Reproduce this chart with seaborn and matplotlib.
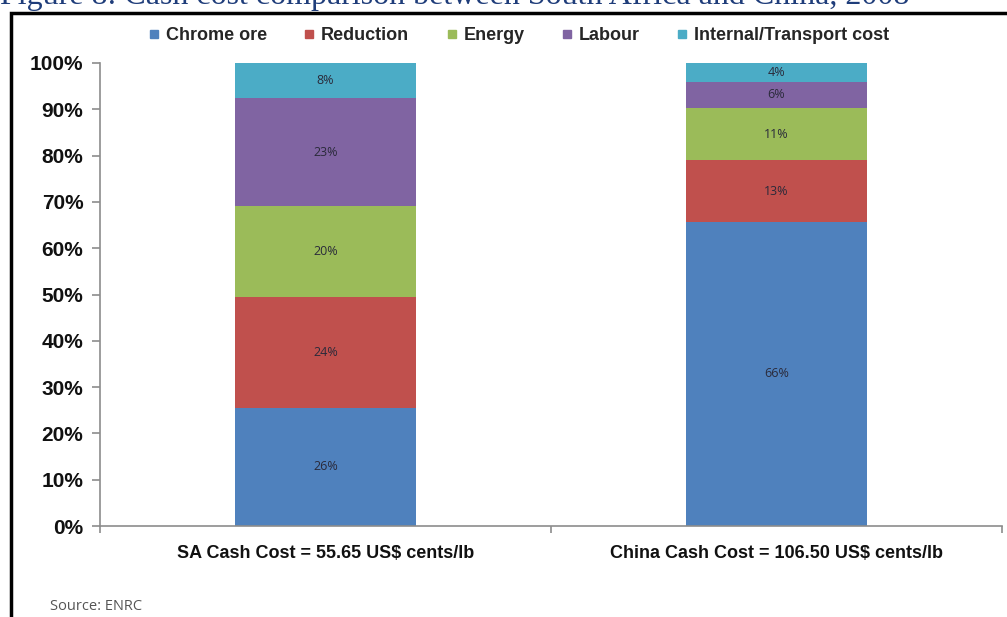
import numpy as np
import pandas as pd
import matplotlib
matplotlib.use('Agg')
import matplotlib.pyplot as plt
from matplotlib.patches import Rectangle
from matplotlib.lines import Line2D
import seaborn as sns

# Data (shares of cash cost, %)
categories = ['SA Cash Cost = 55.65 US$ cents/lb', 'China Cash Cost = 106.50 US$ cents/lb']
components = ['Chrome ore', 'Reduction', 'Energy', 'Labour', 'Internal/Transport cost']
sa_share = [25.5, 24.0, 19.6, 23.3, 7.6]
china_share = [65.7, 13.3, 11.3, 5.6, 4.1]
colors = ['#4F81BD', '#C0504D', '#9BBB59', '#8064A2', '#4BACC6']
yticks = [0, 10, 20, 30, 40, 50, 60, 70, 80, 90, 100]

df = pd.DataFrame({'SA': sa_share, 'China': china_share}, index=components)
cum = df.cumsum()

sns.set_style('white')
plt.rcParams['font.family'] = ['Liberation Sans', 'DejaVu Sans']

fig = plt.figure(figsize=(10.07, 6.17), dpi=100)
ax = fig.add_axes([100 / 1007, 1 - 526 / 617, 902 / 1007, 463 / 617])

# Stack by drawing cumulative totals from the top segment down
for i in reversed(range(len(components))):
    plot_df = pd.DataFrame({'cat': categories, 'val': cum.iloc[i].values})
    sns.barplot(data=plot_df, x='cat', y='val', color=colors[i], width=0.4,
                saturation=1, linewidth=0, ax=ax)

# Segment labels
for j, col in enumerate(['SA', 'China']):
    for i in range(len(components)):
        top = cum[col].iloc[i]
        mid = top - df[col].iloc[i] / 2
        ax.text(j, mid, f"{df[col].iloc[i]:.0f}%", ha='center', va='center',
                fontsize=9, color='#2a2a3a', family=['Open Sans', 'DejaVu Sans'])

ax.set_xlim(-0.5, 1.5)
ax.set_ylim(0, 100)
ax.set_yticks(yticks)
ax.set_yticklabels([f"{t}%" for t in yticks], fontsize=15, fontweight='bold', color='#111111')
ax.set_xticks([0, 1])
ax.set_xticklabels(categories, fontsize=13, fontweight='bold', color='#111111')
ax.set_xlabel('')
ax.set_ylabel('')

for s in ['top', 'right']:
    ax.spines[s].set_visible(False)
for s in ['left', 'bottom']:
    ax.spines[s].set_color('#8c8c8c')
    ax.spines[s].set_linewidth(1.2)

ax.tick_params(axis='y', length=6, color='#8c8c8c', width=1.2, pad=6, left=True)
ax.tick_params(axis='x', length=0, pad=14)
# category boundary ticks on the x axis
ax.set_xticks([-0.5, 0.5, 1.5], minor=True)
ax.tick_params(axis='x', which='minor', length=5, color='#8c8c8c', width=1.2, bottom=True, direction='out')

# Legend
handles = [Line2D([0], [0], marker='s', linestyle='', markersize=6,
                  markerfacecolor=c, markeredgecolor=c) for c in colors]
fig.legend(handles, components, loc='center', bbox_to_anchor=(516 / 1007, 1 - 36 / 617),
           ncol=5, frameon=False, handletextpad=0.05, columnspacing=1.75, handlelength=1.2,
           prop={'weight': 'bold', 'size': 13})

# Outer frame
fig.patches.append(Rectangle((11 / 1007, -0.2), 1.2, 1 - 13 / 617 + 0.2, transform=fig.transFigure,
                             fill=False, edgecolor='black', linewidth=2.5))

# Cut-off document caption and source
fig.text(0.0, 1 - 4 / 617, 'Figure 8: Cash cost comparison between South Africa and China, 2008',
         fontsize=23, color='#1F3D7A', family=['Liberation Serif', 'DejaVu Serif'],
         ha='left', va='baseline')
fig.text(50 / 1007, 1 - 606 / 617, 'Source: ENRC', fontsize=10.5, color='#555555',
         family=['Open Sans', 'DejaVu Sans'], ha='left', va='center')

fig.savefig('out.png', dpi=100)
